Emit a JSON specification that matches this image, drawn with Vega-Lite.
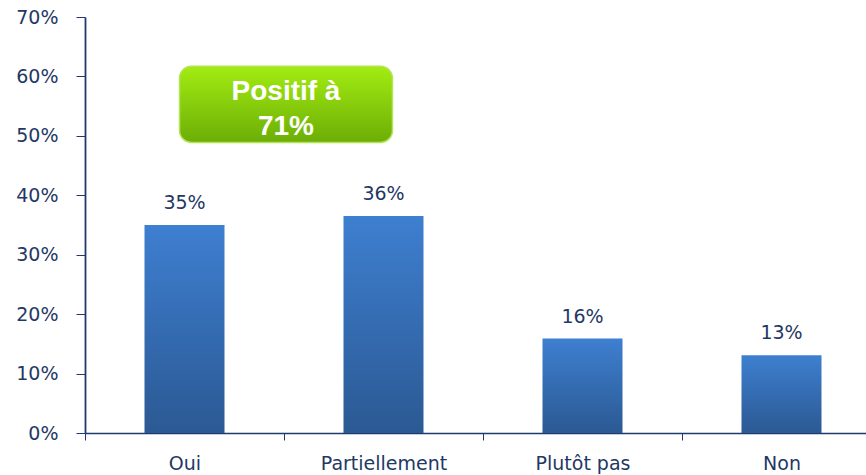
{
  "$schema": "https://vega.github.io/schema/vega-lite/v6.json",
  "autosize": "none",
  "width": 796,
  "height": 416,
  "padding": {"left": 85, "top": 17, "right": 0, "bottom": 42},
  "background": "white",
  "config": {"view": {"stroke": null}, "font": "DejaVu Sans"},
  "datasets": {
    "bars": [
      {"cat": "Oui", "value": 35.0, "label": "35%"},
      {"cat": "Partiellement", "value": 36.5, "label": "36%"},
      {"cat": "Plutôt pas", "value": 15.9, "label": "16%"},
      {"cat": "Non", "value": 13.1, "label": "13%"}
    ],
    "box": [
      {"x0": 0.475, "x1": 1.545, "y0": 61.7, "y1": 48.9}
    ],
    "boxtext": [
      {"xc": 1.01, "yc": 56.0, "t": "Positif à"},
      {"xc": 1.01, "yc": 50.1, "t": "71%"}
    ]
  },
  "layer": [
    {
      "data": {"name": "bars"},
      "encoding": {
        "x": {
          "field": "cat", "type": "nominal", "sort": null,
          "scale": {"type": "band", "paddingInner": 0, "paddingOuter": 0},
          "axis": {
            "title": null, "labelAngle": 0, "labelFont": "DejaVu Sans", "labelFontSize": 19,
            "labelColor": "#1f3864", "domainColor": "#1f3a6e", "domainWidth": 1.5,
            "tickColor": "#1f3a6e", "tickSize": 7, "tickBand": "extent", "labelPadding": 14
          }
        },
        "y": {
          "field": "value", "type": "quantitative",
          "scale": {"domain": [0, 70]},
          "axis": {
            "title": null, "values": [0, 10, 20, 30, 40, 50, 60, 70], "grid": false,
            "labelExpr": "datum.value + '%'", "labelFont": "DejaVu Sans", "labelFontSize": 19,
            "labelColor": "#1f3864", "domainColor": "#1f3a6e", "domainWidth": 1.8,
            "tickColor": "#1f3a6e", "tickSize": 9, "labelPadding": 18
          }
        }
      },
      "layer": [
        {
          "mark": {
            "type": "bar",
            "width": {"band": 0.402},
            "color": {
              "gradient": "linear", "x1": 0, "y1": 0, "x2": 0, "y2": 1,
              "stops": [{"offset": 0, "color": "#3e7fd0"}, {"offset": 1, "color": "#2b5993"}]
            }
          }
        },
        {
          "mark": {"type": "text", "baseline": "alphabetic", "dy": -16, "font": "DejaVu Sans", "fontSize": 19, "color": "#1f3864"},
          "encoding": {"text": {"field": "label"}}
        }
      ]
    },
    {
      "data": {"name": "box"},
      "mark": {
        "type": "rect", "cornerRadius": 12, "stroke": "#b5e35a", "strokeWidth": 1.5,
        "color": {
          "gradient": "linear", "x1": 0, "y1": 0, "x2": 0, "y2": 1,
          "stops": [{"offset": 0, "color": "#a3ec12"}, {"offset": 1, "color": "#6cae06"}]
        }
      },
      "encoding": {
        "x": {"field": "x0", "type": "quantitative", "scale": {"domain": [0, 4]}, "axis": null},
        "x2": {"field": "x1"},
        "y": {"field": "y0", "type": "quantitative"},
        "y2": {"field": "y1"}
      }
    },
    {
      "data": {"name": "boxtext"},
      "mark": {"type": "text", "font": "Liberation Sans", "fontWeight": "bold", "fontSize": 28, "color": "white", "baseline": "alphabetic", "align": "center"},
      "encoding": {
        "x": {"field": "xc", "type": "quantitative", "scale": {"domain": [0, 4]}, "axis": null},
        "y": {"field": "yc", "type": "quantitative"},
        "text": {"field": "t"}
      }
    }
  ],
  "resolve": {"scale": {"x": "independent"}}
}
